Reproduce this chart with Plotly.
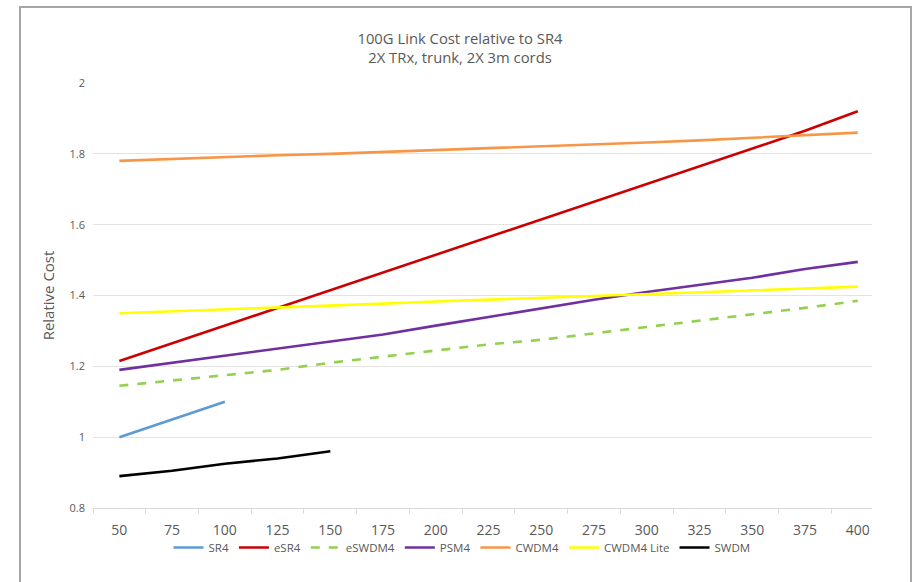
import plotly.graph_objects as go

categories = ["50", "75", "100", "125", "150", "175", "200", "225", "250",
              "275", "300", "325", "350", "375", "400"]

sr4 = [1.00, 1.05, 1.10]
esr4 = [1.215, 1.265, 1.315, 1.365, 1.415, 1.465, 1.515, 1.565, 1.615,
        1.665, 1.715, 1.765, 1.815, 1.865, 1.92]
eswdm4 = [1.145, 1.16, 1.175, 1.19, 1.21, 1.228, 1.245, 1.262, 1.275,
          1.293, 1.31, 1.328, 1.345, 1.365, 1.385]
psm4 = [1.19, 1.21, 1.23, 1.25, 1.27, 1.29, 1.315, 1.34, 1.365,
        1.388, 1.41, 1.43, 1.45, 1.475, 1.495]
cwdm4 = [1.780, 1.786, 1.792, 1.796, 1.800, 1.805, 1.810, 1.815, 1.820,
         1.826, 1.832, 1.838, 1.845, 1.852, 1.860]
cwdm4_lite = [1.35, 1.355, 1.36, 1.366, 1.372, 1.377, 1.383, 1.388, 1.393,
              1.398, 1.404, 1.409, 1.414, 1.42, 1.425]
swdm = [0.89, 0.905, 0.925, 0.94, 0.96]

series = [
    ("SR4", sr4, "#5B9BD5", "solid"),
    ("eSR4", esr4, "#CC0000", "solid"),
    ("eSWDM4", eswdm4, "#92D050", "dash"),
    ("PSM4", psm4, "#7030A0", "solid"),
    ("CWDM4", cwdm4, "#F79646", "solid"),
    ("CWDM4 Lite", cwdm4_lite, "#FFFF00", "solid"),
    ("SWDM", swdm, "#000000", "solid"),
]

W, H = 914, 582
PL, PR, PT, PB = 93, 872, 83, 508
PW, PH = PR - PL, PB - PT

fig = go.Figure()
for name, vals, color, dash in series:
    fig.add_trace(go.Scatter(
        x=categories[:len(vals)], y=vals, name=name, mode="lines",
        line=dict(color=color, width=2.6, dash=dash),
    ))

fig.update_layout(
    width=W, height=H,
    margin=dict(l=PL, r=W - PR, t=PT, b=H - PB, autoexpand=False),
    paper_bgcolor="white", plot_bgcolor="white",
    font=dict(family="Open Sans, Liberation Sans, sans-serif", color="#595959"),
    title=dict(
        text="100G Link Cost relative to SR4<br>2X TRx, trunk, 2X 3m cords",
        x=460 / W, xanchor="center", y=1 - 44 / H, yanchor="top",
        font=dict(size=14.8, color="#595959"),
    ),
    showlegend=True,
    legend=dict(
        orientation="h", xref="paper", x=(462 - PL) / PW, xanchor="center",
        yref="container", y=(H - 533) / H, yanchor="top",
        font=dict(size=11.5, color="#595959"),
        itemwidth=30, tracegroupgap=0, bgcolor="rgba(0,0,0,0)",
    ),
    shapes=[dict(
        type="rect", xref="paper", yref="paper",
        x0=(20 - PL) / PW, x1=(911 - PL) / PW,
        y0=(PB - 600) / PH, y1=(PB - 7) / PH,
        line=dict(color="#A6A6A6", width=2), fillcolor="rgba(0,0,0,0)",
        layer="below",
    )],
)

fig.update_xaxes(
    type="category", categoryorder="array", categoryarray=categories,
    range=[-0.5, 14.27], tickson="boundaries", ticks="outside", ticklen=5,
    tickcolor="#D9D9D9", showline=True, linecolor="#D9D9D9", linewidth=1,
    showgrid=False, tickfont=dict(size=14, color="#595959"), tickangle=0,
    ticklabelstandoff=9, automargin=False,
)
fig.update_yaxes(
    range=[0.8, 2.0], tickvals=[0.8, 1.0, 1.2, 1.4, 1.6, 1.8, 2.0],
    ticktext=["0.8", "1", "1.2", "1.4", "1.6", "1.8", "2"],
    showgrid=True, gridcolor="#E3E3E3", gridwidth=1, zeroline=False,
    tickfont=dict(size=11, color="#595959"), ticklabelstandoff=7,
    automargin=False,
    title=dict(text="Relative Cost", font=dict(size=15, color="#595959"), standoff=11),
)

fig.write_html("out.html", config={"displayModeBar": False},
               post_script="document.body.style.margin='0';")
